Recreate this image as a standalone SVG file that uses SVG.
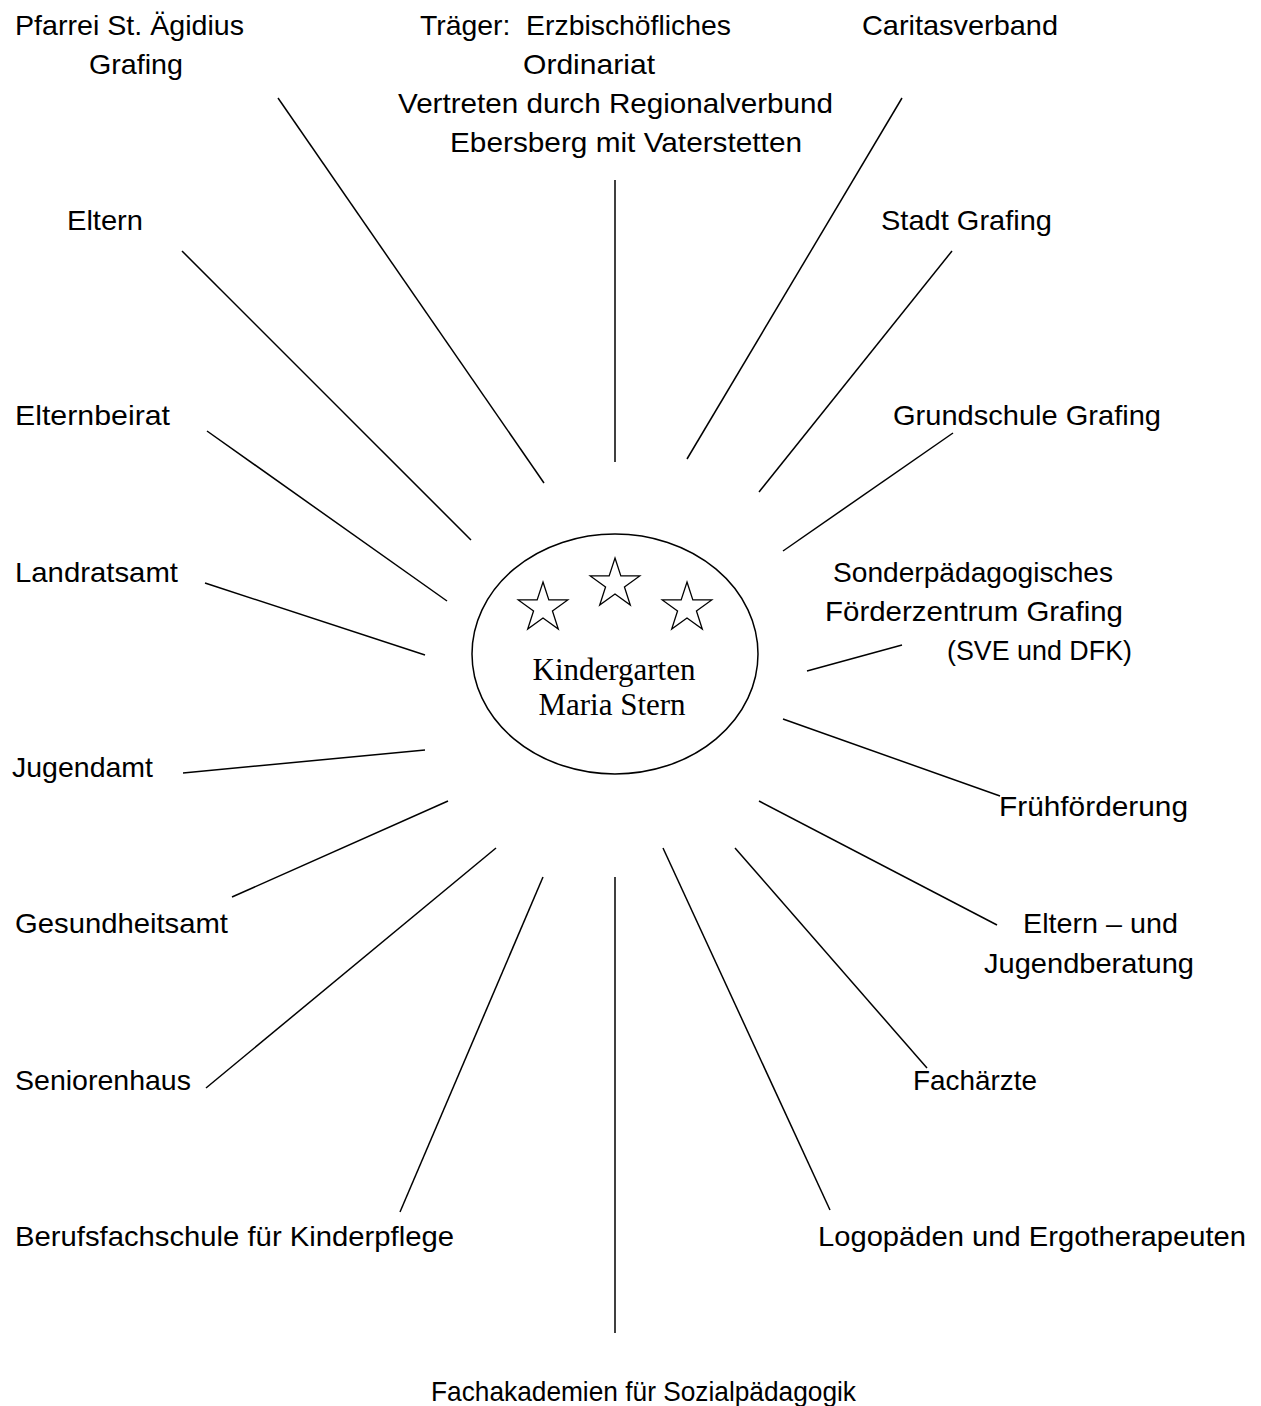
<svg xmlns="http://www.w3.org/2000/svg" width="1261" height="1406" viewBox="0 0 1261 1406">
<style>
.l{font-family:"Liberation Sans",Arial,sans-serif;font-size:28px;fill:#000}
.c{font-family:"Liberation Serif","Times New Roman",serif;font-size:31px;fill:#000;text-anchor:middle}
.e{fill:#fff;stroke:#000;stroke-width:1.5}
.s{fill:#fff;stroke:#000;stroke-width:1.3;stroke-linejoin:miter}
#connectors line{stroke:#000;stroke-width:1.5}
</style>
<defs>
<polygon id="star" points="0,-26 5.84,-8.04 24.73,-8.04 9.45,3.07 15.28,21.03 0,9.94 -15.28,21.03 -9.45,3.07 -24.73,-8.04 -5.84,-8.04"/>
</defs>
<rect width="1261" height="1406" fill="#fff"/>
<g id="connectors">
<line x1="278" y1="98" x2="544" y2="483"/>
<line x1="615" y1="180" x2="615" y2="462"/>
<line x1="902" y1="98" x2="687" y2="459"/>
<line x1="182" y1="251" x2="471" y2="540"/>
<line x1="952" y1="251" x2="759" y2="492"/>
<line x1="207" y1="431" x2="447" y2="601"/>
<line x1="953" y1="433" x2="783" y2="551"/>
<line x1="205" y1="583" x2="425" y2="655"/>
<line x1="902" y1="645" x2="807" y2="671"/>
<line x1="183" y1="773" x2="425" y2="750"/>
<line x1="783" y1="719" x2="1000" y2="796"/>
<line x1="232" y1="897" x2="448" y2="801"/>
<line x1="759" y1="801" x2="997" y2="925"/>
<line x1="206" y1="1088" x2="496" y2="848"/>
<line x1="735" y1="848" x2="927" y2="1068"/>
<line x1="400" y1="1212" x2="543" y2="877"/>
<line x1="663" y1="848" x2="830" y2="1210"/>
<line x1="615" y1="877" x2="615" y2="1333"/>
</g>
<g id="center">
<ellipse class="e" cx="615" cy="654" rx="143" ry="120"/>
<use href="#star" class="s" x="543" y="608"/>
<use href="#star" class="s" x="615" y="584"/>
<use href="#star" class="s" x="687" y="608"/>
<text class="c" x="614" y="680">Kindergarten</text>
<text class="c" x="612" y="715">Maria Stern</text>
</g>
<g id="pfarrei"><text class="l" x="15" y="35" textLength="229" lengthAdjust="spacingAndGlyphs">Pfarrei St. Ägidius</text><text class="l" x="89" y="74" textLength="94" lengthAdjust="spacingAndGlyphs">Grafing</text></g>
<g id="traeger"><text class="l" x="420" y="35" textLength="311" lengthAdjust="spacingAndGlyphs">Träger: &#160;Erzbischöfliches</text><text class="l" x="523" y="74" textLength="132" lengthAdjust="spacingAndGlyphs">Ordinariat</text><text class="l" x="398" y="113" textLength="435" lengthAdjust="spacingAndGlyphs">Vertreten durch Regionalverbund</text><text class="l" x="450" y="152" textLength="352" lengthAdjust="spacingAndGlyphs">Ebersberg mit Vaterstetten</text></g>
<g id="caritas"><text class="l" x="862" y="35" textLength="196" lengthAdjust="spacingAndGlyphs">Caritasverband</text></g>
<g id="eltern"><text class="l" x="67" y="230" textLength="76" lengthAdjust="spacingAndGlyphs">Eltern</text></g>
<g id="stadt"><text class="l" x="881" y="230" textLength="171" lengthAdjust="spacingAndGlyphs">Stadt Grafing</text></g>
<g id="elternbeirat"><text class="l" x="15" y="425" textLength="155" lengthAdjust="spacingAndGlyphs">Elternbeirat</text></g>
<g id="grundschule"><text class="l" x="893" y="425" textLength="268" lengthAdjust="spacingAndGlyphs">Grundschule Grafing</text></g>
<g id="sonder"><text class="l" x="833" y="582" textLength="280" lengthAdjust="spacingAndGlyphs">Sonderpädagogisches</text><text class="l" x="825" y="621" textLength="298" lengthAdjust="spacingAndGlyphs">Förderzentrum Grafing</text><text class="l" x="947" y="660" textLength="185" lengthAdjust="spacingAndGlyphs">(SVE und DFK)</text></g>
<g id="landratsamt"><text class="l" x="15" y="582" textLength="163" lengthAdjust="spacingAndGlyphs">Landratsamt</text></g>
<g id="jugendamt"><text class="l" x="12" y="777" textLength="141" lengthAdjust="spacingAndGlyphs">Jugendamt</text></g>
<g id="fruehfoerderung"><text class="l" x="999" y="816" textLength="189" lengthAdjust="spacingAndGlyphs">Frühförderung</text></g>
<g id="gesundheitsamt"><text class="l" x="15" y="933" textLength="213" lengthAdjust="spacingAndGlyphs">Gesundheitsamt</text></g>
<g id="beratung"><text class="l" x="1023" y="933" textLength="155" lengthAdjust="spacingAndGlyphs">Eltern – und</text><text class="l" x="984" y="973" textLength="210" lengthAdjust="spacingAndGlyphs">Jugendberatung</text></g>
<g id="seniorenhaus"><text class="l" x="15" y="1090" textLength="176" lengthAdjust="spacingAndGlyphs">Seniorenhaus</text></g>
<g id="fachaerzte"><text class="l" x="913" y="1090" textLength="124" lengthAdjust="spacingAndGlyphs">Fachärzte</text></g>
<g id="berufsfachschule"><text class="l" x="15" y="1246" textLength="439" lengthAdjust="spacingAndGlyphs">Berufsfachschule für Kinderpflege</text></g>
<g id="logopaeden"><text class="l" x="818" y="1246" textLength="428" lengthAdjust="spacingAndGlyphs">Logopäden und Ergotherapeuten</text></g>
<g id="fachakademien"><text class="l" x="431" y="1401" textLength="425" lengthAdjust="spacingAndGlyphs">Fachakademien für Sozialpädagogik</text></g>
</svg>
